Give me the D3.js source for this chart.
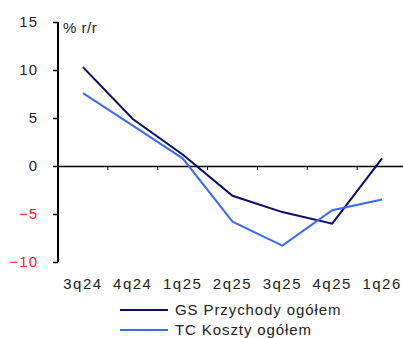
<!DOCTYPE html>
<html>
<head>
<meta charset="utf-8">
<script src="https://cdn.jsdelivr.net/npm/d3@7"></script>
<style>
  html, body { margin: 0; padding: 0; background: #fff; }
  svg { display: block; font-family: "Liberation Sans", Arial, sans-serif; }
</style>
</head>
<body>
<svg id="chart" width="403" height="338"></svg>
<script>
// Quarterly y/y changes, %
const categories = ["3q24", "4q24", "1q25", "2q25", "3q25", "4q25", "1q26"];
const gsRevenue = [10.3, 4.9, 1.2, -3.1, -4.8, -6.0, 0.8];
const tcCosts   = [7.6, 4.2, 0.8, -5.8, -8.3, -4.6, -3.5];
const yTicks = [15, 10, 5, 0, -5, -10];
const seriesNames = ["GS Przychody ogółem", "TC Koszty ogółem"];
const unitLabel = "% r/r";

(function () {
const svg = d3.select("#chart");
const plotLeft = 58, plotRight = 407, plotTop = 22, plotBottom = 262;

const x = d3.scaleBand().domain(categories).range([plotLeft, plotRight]);
const y = d3.scaleLinear().domain([-10, 15]).range([plotBottom, plotTop]);

const colors = ["#0b0b6b", "#3a6bff"];
const textColor = "#222";

// y axis
const yAxis = svg.append("g")
  .attr("transform", `translate(${plotLeft},0)`)
  .call(d3.axisLeft(y).tickValues(yTicks).tickSize(5).tickPadding(15).tickFormat(d3.format("d")));
yAxis.select(".domain").attr("stroke", "#000").attr("stroke-width", 2).attr("d", `M0,${y(15)}V${y(-10)}`);
yAxis.selectAll(".tick line").attr("stroke", "#000").attr("stroke-width", 1.5);
yAxis.selectAll(".tick text")
  .attr("font-size", 15)
  .attr("letter-spacing", 1)
  .attr("font-family", "Liberation Sans, Arial, sans-serif")
  .attr("fill", d => d < 0 ? "#ff1a1a" : textColor);

// x axis along zero line
const xAxis = svg.append("g")
  .attr("transform", `translate(0,${y(0)})`)
  .call(d3.axisBottom(x).tickSize(0).tickFormat(""));
xAxis.select(".domain").attr("stroke", "#000").attr("stroke-width", 1.5);
xAxis.selectAll(".tick").remove();
// tick marks at band boundaries
svg.append("g").selectAll("line")
  .data(categories.slice(1))
  .join("line")
  .attr("x1", d => x(d)).attr("x2", d => x(d))
  .attr("y1", y(0)).attr("y2", y(0) + 4)
  .attr("stroke", "#000").attr("stroke-width", 1);

// category labels below the plot
svg.append("g").selectAll("text")
  .data(categories)
  .join("text")
  .attr("x", d => x(d) + x.bandwidth() / 2)
  .attr("y", 289)
  .attr("text-anchor", "middle")
  .attr("font-size", 15)
  .attr("letter-spacing", 1.5)
  .attr("fill", textColor)
  .text(d => d);

// unit label
svg.append("text")
  .attr("x", 63).attr("y", 33)
  .attr("font-size", 15)
  .attr("letter-spacing", 0.5)
  .attr("fill", textColor)
  .text(unitLabel);

// lines
const line = d3.line()
  .x((d, i) => x(categories[i]) + x.bandwidth() / 2)
  .y(d => y(d));

[gsRevenue, tcCosts].forEach((s, i) => {
  svg.append("path")
    .datum(s)
    .attr("d", line)
    .attr("fill", "none")
    .attr("stroke", colors[i])
    .attr("stroke-width", 2);
});

// legend
const legend = svg.append("g");
seriesNames.forEach((name, i) => {
  const ly = 310 + i * 20;
  legend.append("line")
    .attr("x1", 120).attr("x2", 168)
    .attr("y1", ly).attr("y2", ly)
    .attr("stroke", colors[i]).attr("stroke-width", 2);
  legend.append("text")
    .attr("x", 175).attr("y", ly + 5)
    .attr("font-size", 15)
    .attr("letter-spacing", 0.9)
    .attr("fill", textColor)
    .text(name);
});
})();
</script>
</body>
</html>
